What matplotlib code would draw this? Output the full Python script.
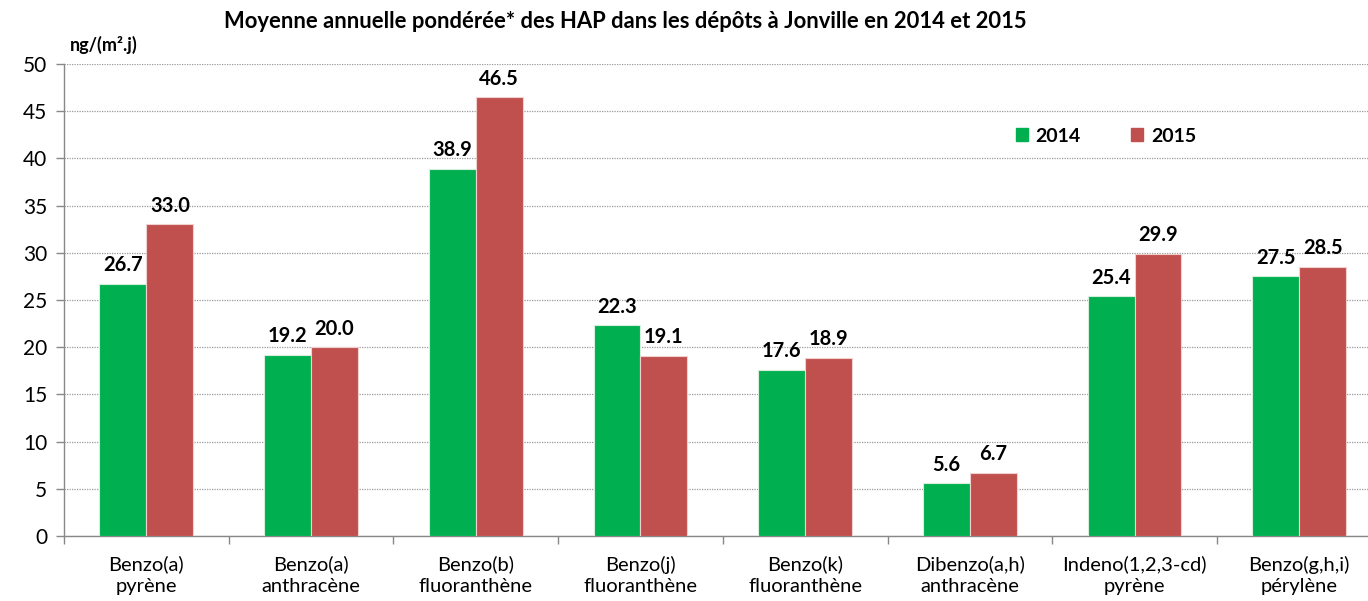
import matplotlib
matplotlib.use("Agg")
import matplotlib.pyplot as plt
import numpy as np
from matplotlib.patches import Rectangle

categories = ["Benzo(a)\npyrène", "Benzo(a)\nanthracène", "Benzo(b)\nfluoranthène",
              "Benzo(j)\nfluoranthène", "Benzo(k)\nfluoranthène", "Dibenzo(a,h)\nanthracène",
              "Indeno(1,2,3-cd)\npyrène", "Benzo(g,h,i)\npérylène"]
values_2014 = [26.7, 19.2, 38.9, 22.3, 17.6, 5.6, 25.4, 27.5]
values_2015 = [33.0, 20.0, 46.5, 19.1, 18.9, 6.7, 29.9, 28.5]
series_labels = ["2014", "2015"]
yticks = [0, 5, 10, 15, 20, 25, 30, 35, 40, 45, 50]

plt.rcParams['font.family'] = ['Lato', 'DejaVu Sans']

W, H = 1368, 601
fig = plt.figure(figsize=(W/100, H/100), dpi=100)
left_px, right_px = 64, 1381.6
top_px, bottom_px = 64, 536
ax = fig.add_axes([left_px/W, 1 - bottom_px/H, (right_px-left_px)/W, (bottom_px-top_px)/H])

n = len(categories)
x = np.arange(n)
bw = 0.285
green = "#00B050"
red = "#C0504D"
ax.bar(x - bw/2, values_2014, bw, color=green, edgecolor="#d8eedd", linewidth=0.8, zorder=3)
ax.bar(x + bw/2, values_2015, bw, color=red, edgecolor="#f0d0d0", linewidth=0.8, zorder=3)

for xi, v in zip(x, values_2014):
    ax.text(xi - bw/2, v + 0.9, f"{v:.1f}", ha="center", va="bottom", fontsize=14.5, fontweight="bold", zorder=4)
for xi, v in zip(x, values_2015):
    ax.text(xi + bw/2, v + 0.9, f"{v:.1f}", ha="center", va="bottom", fontsize=14.5, fontweight="bold", zorder=4)

ax.set_xlim(-0.5, n - 0.5)
ax.set_ylim(0, 50)
ax.set_yticks(yticks)
ax.set_yticklabels([str(t) for t in yticks], fontsize=15)
ax.yaxis.grid(True, linestyle=(0, (1, 1)), color="#9a9a9a", linewidth=0.9, zorder=0)
ax.tick_params(axis="y", length=6, color="#888888", pad=6, width=1)

ax.set_xticks(np.arange(-0.5, n, 1.0))
ax.set_xticklabels([])
ax.set_xticks(x, minor=True)
ax.set_xticklabels(categories, minor=True, fontsize=14.5, linespacing=1.3)
ax.tick_params(axis="x", which="major", length=6, color="#888888", width=1)
ax.tick_params(axis="x", which="minor", length=0, pad=14)

for s in ["top", "right"]:
    ax.spines[s].set_visible(False)
for s in ["left", "bottom"]:
    ax.spines[s].set_color("#888888")
    ax.spines[s].set_linewidth(1)

fig.text(625/W, 1 - 22/H, "Moyenne annuelle pondérée* des HAP dans les dépôts à Jonville en 2014 et 2015",
         ha="center", va="center", fontsize=15.8, fontweight="bold")
fig.text(70/W, 1 - 45/H, "ng/(m².j)", ha="left", va="center", fontsize=13, fontweight="bold")

# legend
handles = [Rectangle((0, 0), 1, 1, color=green), Rectangle((0, 0), 1, 1, color=red)]
leg = fig.legend(handles, series_labels, loc="center", bbox_to_anchor=(1106/W, 1 - 136/H), ncol=2,
                 frameon=False, prop={"weight": "bold", "size": 14}, handlelength=0.6, handleheight=0.6,
                 handletextpad=0.4, columnspacing=2.6)

fig.savefig("out.png", dpi=100)
